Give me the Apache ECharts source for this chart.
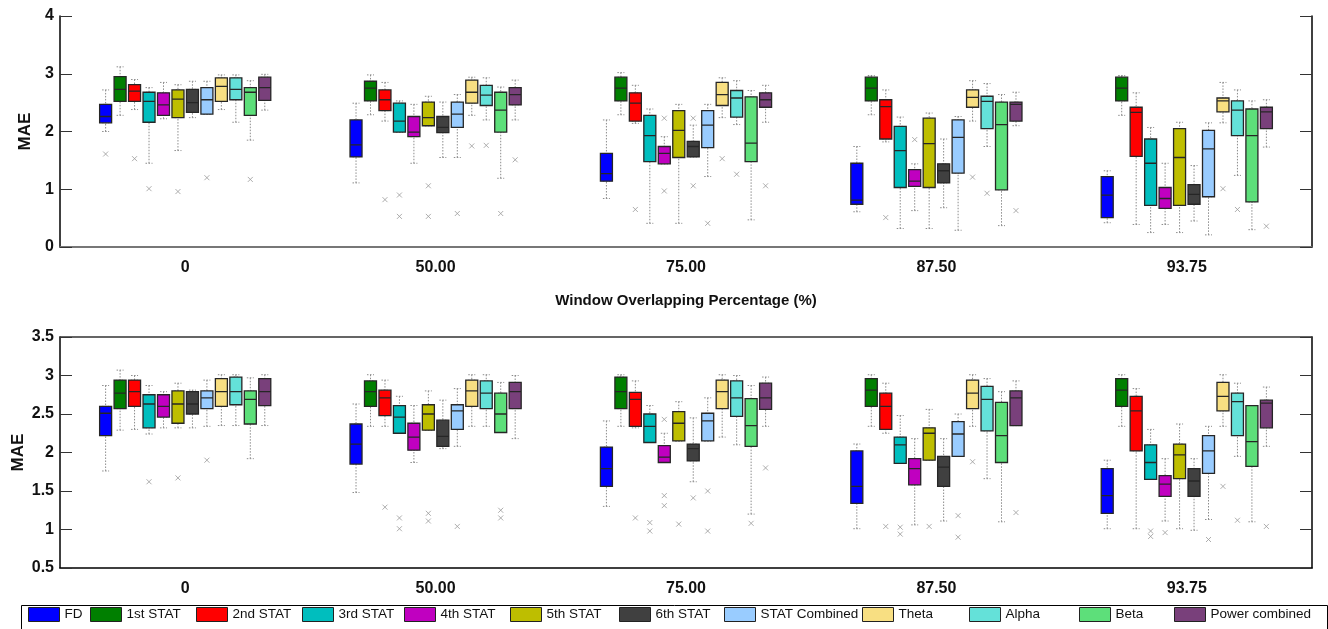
<!DOCTYPE html>
<html><head><meta charset="utf-8">
<script src="https://cdn.jsdelivr.net/npm/echarts@6/dist/echarts.min.js"></script>
<style>html,body{margin:0;padding:0;background:#fff}#c{width:1328px;height:629px}</style>
</head><body><div id="c"></div>
<script>
const categories = ['0', '50.00', '75.00', '87.50', '93.75'];
const seriesNames = ['FD', '1st STAT', '2nd STAT', '3rd STAT', '4th STAT', '5th STAT', '6th STAT', 'STAT Combined', 'Theta', 'Alpha', 'Beta', 'Power combined'];
const colors = ['#0000FF', '#007F00', '#FF0000', '#00BEBE', '#C000C0', '#BEBE00', '#404040', '#99CCFF', '#F8DF82', '#64E1D9', '#5DDF7A', '#79407B'];
const yTopTicks = [0, 1, 2, 3, 4];
const yBottomTicks = [0.5, 1, 1.5, 2, 2.5, 3, 3.5];

// [min, Q1, median, Q3, max] per category — top panel
const top_FD = [[2.0,2.15,2.26,2.47,2.72],[1.11,1.56,1.77,2.20,2.49],[0.84,1.14,1.27,1.62,2.20],[0.61,0.74,0.81,1.45,1.74],[0.42,0.51,0.90,1.22,1.32]];
const top_S1 = [[2.28,2.52,2.73,2.95,3.12],[2.29,2.53,2.75,2.87,2.98],[2.29,2.53,2.75,2.94,3.02],[2.29,2.53,2.75,2.94,2.97],[2.28,2.53,2.75,2.94,2.97]];
const top_S2 = [[2.38,2.52,2.70,2.81,2.90],[2.18,2.36,2.55,2.72,2.85],[2.14,2.18,2.49,2.67,2.80],[1.82,1.87,2.43,2.55,2.72],[0.39,1.57,2.33,2.42,2.67]];
const top_S3 = [[1.45,2.16,2.52,2.68,2.76],[1.99,1.99,2.18,2.49,2.53],[0.41,1.48,1.93,2.28,2.39],[0.32,1.03,1.67,2.09,2.25],[0.25,0.72,1.45,1.87,2.07]];
const top_S4 = [[2.22,2.28,2.46,2.67,2.85],[1.45,1.91,1.99,2.26,2.47],[1.44,1.44,1.62,1.74,1.91],[0.63,1.05,1.14,1.34,1.44],[0.39,0.67,0.84,1.03,1.45]];
const top_S5 = [[1.67,2.24,2.56,2.72,2.81],[2.10,2.10,2.24,2.51,2.61],[0.41,1.55,2.02,2.36,2.47],[0.32,1.03,1.79,2.23,2.32],[0.25,0.72,1.55,2.05,2.16]];
const top_S6 = [[2.24,2.33,2.50,2.73,2.87],[1.55,1.98,2.07,2.26,2.51],[1.56,1.56,1.74,1.83,2.11],[0.68,1.11,1.32,1.44,1.87],[0.45,0.74,0.91,1.08,1.41]];
const top_SC = [[2.30,2.30,2.55,2.76,2.87],[1.55,2.07,2.30,2.51,2.64],[1.22,1.72,2.11,2.36,2.47],[0.29,1.28,1.90,2.20,2.26],[0.21,0.87,1.70,2.02,2.15]];
const top_TH = [[2.38,2.52,2.78,2.93,2.98],[2.28,2.49,2.68,2.89,2.94],[2.24,2.45,2.64,2.85,2.93],[2.18,2.42,2.59,2.72,2.88],[2.15,2.34,2.53,2.58,2.85]];
const top_AL = [[2.16,2.55,2.73,2.93,2.98],[2.20,2.45,2.63,2.80,2.93],[2.12,2.25,2.58,2.71,2.88],[1.74,2.05,2.52,2.61,2.83],[1.24,1.93,2.37,2.53,2.72]];
const top_BE = [[1.85,2.28,2.68,2.76,2.88],[1.19,1.99,2.37,2.68,2.77],[0.47,1.48,1.80,2.60,2.71],[0.37,0.99,2.12,2.51,2.64],[0.30,0.78,1.93,2.39,2.53]];
const top_PC = [[2.37,2.54,2.76,2.94,2.99],[2.20,2.46,2.64,2.76,2.89],[2.16,2.42,2.55,2.67,2.80],[2.10,2.18,2.47,2.51,2.68],[1.73,2.05,2.34,2.42,2.55]];

// outliers [category, value] — top panel
const topOut_FD = [['0',1.61]];
const topOut_S1 = [];
const topOut_S2 = [['0',1.53],['50.00',0.82],['75.00',0.65],['87.50',0.51]];
const topOut_S3 = [['0',1.01],['50.00',0.90],['50.00',0.53]];
const topOut_S4 = [['75.00',2.23],['75.00',0.97],['87.50',1.86]];
const topOut_S5 = [['0',0.96],['50.00',1.06],['50.00',0.53]];
const topOut_S6 = [['75.00',2.23],['75.00',1.06]];
const topOut_SC = [['0',1.20],['50.00',0.58],['75.00',0.41]];
const topOut_TH = [['50.00',1.75],['75.00',1.53],['87.50',1.21],['93.75',1.01]];
const topOut_AL = [['50.00',1.76],['75.00',1.26],['87.50',0.93],['93.75',0.65]];
const topOut_BE = [['0',1.17],['50.00',0.58]];
const topOut_PC = [['50.00',1.51],['75.00',1.06],['87.50',0.63],['93.75',0.36]];

// bottom panel
const bot_FD = [[1.76,2.22,2.51,2.60,2.87],[1.48,1.85,2.11,2.37,2.63],[1.30,1.56,1.79,2.07,2.41],[1.01,1.34,1.56,2.02,2.11],[1.01,1.21,1.44,1.79,1.90]];
const bot_S1 = [[2.29,2.57,2.77,2.94,3.07],[2.34,2.60,2.79,2.93,3.01],[2.34,2.57,2.79,2.98,3.01],[2.34,2.60,2.81,2.96,3.01],[2.34,2.60,2.81,2.96,3.01]];
const bot_S2 = [[2.30,2.60,2.79,2.94,3.00],[2.34,2.48,2.71,2.81,2.94],[2.32,2.34,2.69,2.78,2.93],[2.25,2.30,2.60,2.77,2.90],[1.01,2.02,2.54,2.73,2.83]];
const bot_S3 = [[2.24,2.32,2.63,2.75,2.87],[2.25,2.25,2.46,2.61,2.73],[2.13,2.13,2.34,2.50,2.61],[1.86,1.86,2.10,2.20,2.48],[1.65,1.65,1.87,2.10,2.30]];
const bot_S4 = [[2.32,2.46,2.60,2.75,2.79],[1.87,2.03,2.20,2.38,2.61],[1.87,1.87,1.94,2.09,2.25],[1.06,1.58,1.79,1.92,2.18],[1.11,1.43,1.59,1.70,1.92]];
const bot_S5 = [[2.32,2.38,2.63,2.80,2.90],[2.29,2.29,2.50,2.62,2.80],[2.15,2.15,2.38,2.53,2.66],[1.90,1.90,2.25,2.32,2.56],[1.01,1.66,1.97,2.11,2.37]];
const bot_S6 = [[2.32,2.50,2.63,2.79,2.81],[2.05,2.08,2.21,2.42,2.68],[1.62,1.89,2.05,2.11,2.45],[1.11,1.56,1.81,1.95,2.18],[0.99,1.43,1.63,1.79,1.92]];
const bot_SC = [[2.34,2.57,2.71,2.80,2.94],[2.08,2.30,2.54,2.62,2.83],[2.15,2.15,2.41,2.51,2.71],[1.95,1.95,2.24,2.40,2.50],[1.13,1.73,2.02,2.22,2.34]];
const bot_TH = [[2.35,2.60,2.79,2.96,3.01],[2.34,2.60,2.80,2.94,3.01],[2.20,2.57,2.79,2.94,3.01],[2.34,2.57,2.77,2.94,3.01],[2.34,2.54,2.73,2.91,3.01]];
const bot_AL = [[2.35,2.62,2.79,2.98,3.01],[2.34,2.57,2.77,2.93,3.01],[2.10,2.47,2.71,2.93,3.00],[1.66,2.28,2.69,2.86,2.96],[1.95,2.22,2.66,2.77,2.90]];
const bot_BE = [[1.92,2.37,2.69,2.80,2.97],[2.26,2.26,2.50,2.77,2.91],[1.20,2.08,2.35,2.70,2.87],[1.10,1.87,2.22,2.65,2.79],[1.10,1.82,2.14,2.61,2.61]];
const bot_PC = [[2.35,2.61,2.79,2.96,3.01],[2.18,2.57,2.79,2.91,3.00],[2.34,2.56,2.71,2.90,2.98],[2.35,2.35,2.71,2.80,2.93],[2.08,2.32,2.64,2.68,2.85]];

const botOut_FD = [];
const botOut_S1 = [];
const botOut_S2 = [['50.00',1.29],['75.00',1.15],['87.50',1.04]];
const botOut_S3 = [['0',1.62],['50.00',1.15],['50.00',1.01],['75.00',1.09],['75.00',0.98],['87.50',1.03],['87.50',0.94],['93.75',0.98],['93.75',0.91]];
const botOut_S4 = [['75.00',2.43],['75.00',1.44],['75.00',1.31],['93.75',0.96]];
const botOut_S5 = [['0',1.67],['50.00',1.21],['50.00',1.11],['75.00',1.07],['87.50',1.04]];
const botOut_S6 = [['75.00',1.41]];
const botOut_SC = [['0',1.90],['50.00',1.04],['75.00',1.50],['75.00',0.98],['87.50',1.18],['87.50',0.90],['93.75',0.87]];
const botOut_TH = [['87.50',1.88],['93.75',1.56]];
const botOut_AL = [['93.75',1.12]];
const botOut_BE = [['50.00',1.25],['50.00',1.15],['75.00',1.08]];
const botOut_PC = [['75.00',1.80],['87.50',1.22],['93.75',1.04]];

const topBoxes = [top_FD, top_S1, top_S2, top_S3, top_S4, top_S5, top_S6, top_SC, top_TH, top_AL, top_BE, top_PC];
const topOutliers = [topOut_FD, topOut_S1, topOut_S2, topOut_S3, topOut_S4, topOut_S5, topOut_S6, topOut_SC, topOut_TH, topOut_AL, topOut_BE, topOut_PC];
const botBoxes = [bot_FD, bot_S1, bot_S2, bot_S3, bot_S4, bot_S5, bot_S6, bot_SC, bot_TH, bot_AL, bot_BE, bot_PC];
const botOutliers = [botOut_FD, botOut_S1, botOut_S2, botOut_S3, botOut_S4, botOut_S5, botOut_S6, botOut_SC, botOut_TH, botOut_AL, botOut_BE, botOut_PC];

const FONT = "'Liberation Sans', Arial, sans-serif";
const GRID_L = 60, GRID_R = 16;
const gridWidth = 1328 - GRID_L - GRID_R;
const band = gridWidth / categories.length;
const nSlots = seriesNames.length + 2;
const avail = band * 0.8 - 2;
const slotGap = avail / nSlots * 0.3;
const slotW = (avail - slotGap * (nSlots - 1)) / nSlots;
const step = slotGap + slotW;
// legend item left positions (layout only)
const legendLeft = [28, 90, 196, 302, 404, 510, 619, 724, 862, 969, 1079, 1174];

function pad(xi, yi) {
  return { type: 'boxplot', name: '_pad', xAxisIndex: xi, yAxisIndex: yi, data: [], silent: true };
}
function panelSeries(boxes, outs, xBox, xWh, yi) {
  const s = [];
  s.push(pad(xWh, yi));
  boxes.forEach((b, i) => s.push({
    type: 'boxplot', name: seriesNames[i], xAxisIndex: xWh, yAxisIndex: yi, boxWidth: [7, 7], data: b,
    silent: true, z: 2,
    itemStyle: { color: 'rgba(0,0,0,0)', borderColor: '#8c8c8c', borderWidth: 1, borderType: [1.5, 1.5] },
    emphasis: { disabled: true }
  }));
  s.push(pad(xWh, yi));
  s.push(pad(xBox, yi));
  boxes.forEach((b, i) => s.push({
    type: 'boxplot', name: seriesNames[i], xAxisIndex: xBox, yAxisIndex: yi, boxWidth: [12, 12],
    data: b.map(d => [d[1], d[1], d[2], d[3], d[3]]), z: 3,
    itemStyle: { color: colors[i], borderColor: '#262626', borderWidth: 1.3 },
    emphasis: { disabled: true }
  }));
  s.push(pad(xBox, yi));
  outs.forEach((o, i) => s.push({
    type: 'scatter', name: seriesNames[i], xAxisIndex: xBox, yAxisIndex: yi, data: o, z: 4,
    symbol: 'path://M0,0L10,10M10,0L0,10', symbolSize: 5, symbolOffset: [(i - 5.5) * step, 0],
    itemStyle: { color: 'none', borderColor: '#9a9a9a', borderWidth: 1 }, silent: true
  }));
  return s;
}

function xBottom(gi, withName) {
  const a = {
    type: 'category', gridIndex: gi, data: categories, position: 'bottom',
    axisLine: { lineStyle: { color: '#000', width: 1.5 } },
    axisTick: { inside: true, alignWithLabel: true, length: 12, lineStyle: { color: '#222' } },
    axisLabel: { fontFamily: FONT, fontWeight: 'bold', fontSize: 16, color: '#111', margin: 13 },
    splitLine: { show: false }
  };
  if (withName) {
    a.name = 'Window Overlapping Percentage (%)';
    a.nameLocation = 'middle';
    a.nameGap = 46;
    a.nameMoveOverlap = false;
    a.nameTextStyle = { fontFamily: FONT, fontWeight: 'bold', fontSize: 15, color: '#111' };
  }
  return a;
}
function xTop(gi, lineColor) {
  return {
    type: 'category', gridIndex: gi, data: categories, position: 'top',
    axisLine: { lineStyle: { color: lineColor, width: 1.5 } },
    axisTick: { inside: true, alignWithLabel: true, length: 12, lineStyle: { color: '#222' } },
    axisLabel: { show: false }, splitLine: { show: false }
  };
}
function yLeft(gi, ticks, gap) {
  return {
    type: 'value', gridIndex: gi, min: ticks[0], max: ticks[ticks.length - 1], interval: ticks[1] - ticks[0],
    name: 'MAE', nameLocation: 'middle', nameGap: gap, nameRotate: 90, nameMoveOverlap: false,
    nameTextStyle: { fontFamily: FONT, fontWeight: 'bold', fontSize: 17, color: '#111' },
    axisLine: { show: true, lineStyle: { color: '#000', width: 1.5 } },
    axisTick: { show: true, inside: true, length: 12, lineStyle: { color: '#333' } },
    axisLabel: { fontFamily: FONT, fontWeight: 'bold', fontSize: 16, color: '#111', margin: 6 },
    splitLine: { show: false }
  };
}
function yRight(gi, ticks) {
  return {
    type: 'value', gridIndex: gi, position: 'right', min: ticks[0], max: ticks[ticks.length - 1], interval: ticks[1] - ticks[0],
    axisLine: { show: true, lineStyle: { color: '#000', width: 1.5 } },
    axisTick: { show: true, inside: true, length: 12, lineStyle: { color: '#333' } },
    axisLabel: { show: false }, splitLine: { show: false }
  };
}

const legends = seriesNames.map((n, i) => ({
  left: legendLeft[i], top: 607, padding: 0, itemWidth: 31, itemHeight: 14, itemGap: 5,
  textStyle: { fontFamily: FONT, fontSize: 13.5, color: '#111' },
  data: [{ name: n, icon: 'rect', itemStyle: { color: colors[i], borderColor: '#222', borderWidth: 1 } }]
}));

const chart = echarts.init(document.getElementById('c'), null, { renderer: 'canvas' });
chart.setOption({
  animation: false,
  backgroundColor: '#fff',
  grid: [
    { left: GRID_L, right: GRID_R, top: 16, height: 231, outerBoundsMode: 'none', containLabel: false },
    { left: GRID_L, right: GRID_R, top: 337, height: 231, outerBoundsMode: 'none', containLabel: false }
  ],
  xAxis: [xBottom(0, true), xTop(0, '#8a8a8a'), xBottom(1, false), xTop(1, '#333')],
  yAxis: [yLeft(0, yTopTicks, 26), yRight(0, yTopTicks), yLeft(1, yBottomTicks, 33), yRight(1, yBottomTicks)],
  legend: legends,
  graphic: [{
    type: 'rect', left: 19, top: 603, z: 0, silent: true,
    shape: { width: 1306, height: 30 },
    style: { fill: 'none', stroke: '#000', lineWidth: 1 }
  }],
  series: [].concat(
    panelSeries(topBoxes, topOutliers, 0, 1, 0),
    panelSeries(botBoxes, botOutliers, 2, 3, 2)
  )
});
</script></body></html>
